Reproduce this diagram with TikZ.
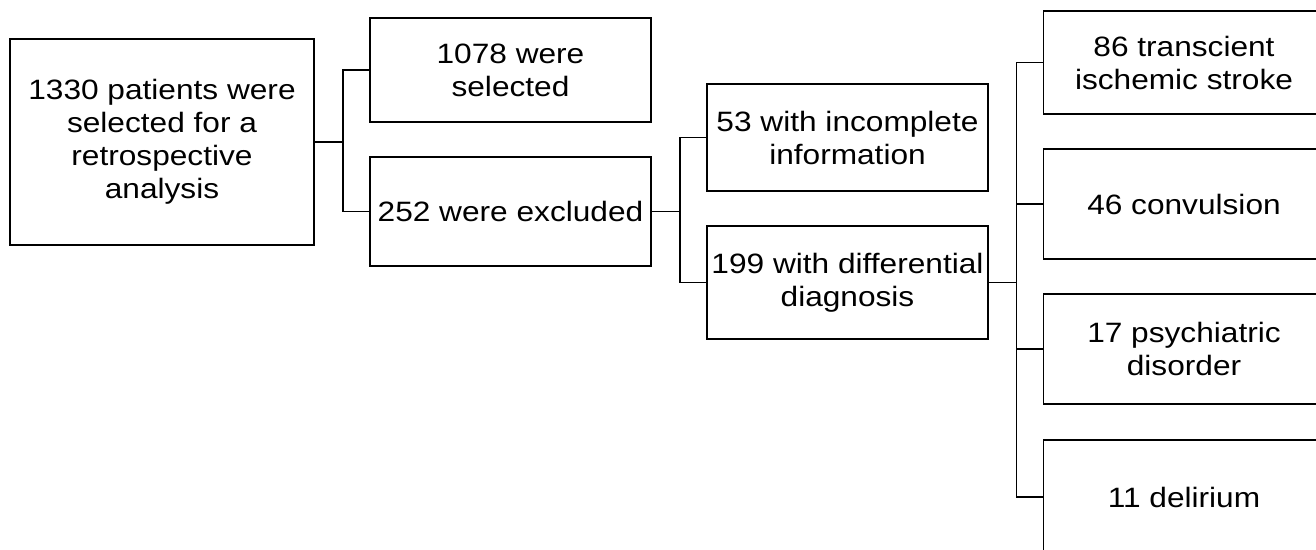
\documentclass[tikz,border=0pt]{standalone}
\usepackage{fontspec}
\setmainfont{Liberation Sans}[FakeStretch=1.13]
\begin{document}
\begin{tikzpicture}[x=1pt, y=-1pt, line width=1.6pt,
	box/.style={draw, inner sep=0pt, minimum width=281pt, align=center, font=\fontsize{28}{33}\selectfont}]
	\useasboundingbox (0, 0) rectangle (1316, 549);
	\clip (0, 0) rectangle (1316, 549);
	
	\coordinate (A) at (162, 142);
	\coordinate (B) at (510.5, 70);
	\coordinate (C) at (510.5, 211.5);
	\coordinate (D) at (847.5, 137.5);
	\coordinate (E) at (847.5, 282.5);
	\coordinate (F) at (1184, 62.5);
	\coordinate (G) at (1184, 204);
	\coordinate (H) at (1184, 349);
	\coordinate (K) at (1184, 497);
	
	\node[box, minimum width=304pt, minimum height=206pt] (A1) at (A) {1330 patients were\\selected for a\\retrospective\\analysis};
	\node[box, minimum height=104pt] (B1) at (B) {1078 were\\selected};
	\node[box, minimum height=109pt] (B2) at (C) {252 were excluded};
	\node[box, minimum height=107pt] (C1) at (D) {53 with incomplete\\information};
	\node[box, minimum height=113pt] (C2) at (E) {199 with differential\\diagnosis};
	\node[box, minimum height=103pt] (D1) at (F) {86 transcient\\ischemic stroke};
	\node[box, minimum height=110pt] (D2) at (G) {46 convulsion};
	\node[box, minimum height=110pt] (D3) at (H) {17 psychiatric\\disorder};
	\node[box, minimum height=114pt] (D4) at (K) {11 delirium};
	
	\draw (A1.east) -- ++(28, 0) |- (B1.west);
	\draw (A1.east) -- ++(28, 0) |- (B2.west);
	
	\draw (B2.east) -- ++(28, 0) |- (C1.west);
	\draw (B2.east) -- ++(28, 0) |- (C2.west);
	
	\draw (C2.east) -- ++(27.5, 0) |- (D1.west);
	\draw (C2.east) -- ++(27.5, 0) |- (D2.west);
	\draw (C2.east) -- ++(27.5, 0) |- (D3.west);
	\draw (C2.east) -- ++(27.5, 0) |- (D4.west);
\end{tikzpicture}
\end{document}
